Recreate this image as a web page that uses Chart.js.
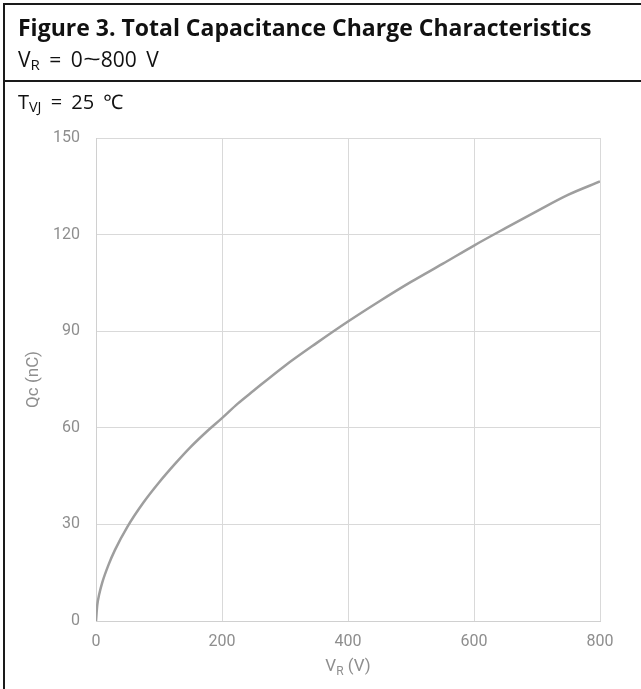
<!DOCTYPE html>
<html>
<head>
<meta charset="utf-8">
<script src="https://cdn.jsdelivr.net/npm/chart.js@4.4.0/dist/chart.umd.min.js"></script>
<style>
  html, body { margin: 0; padding: 0; background: #fff; }
  #wrap { position: relative; width: 641px; height: 689px; overflow: hidden; background: #fff; }
  #c { position: absolute; left: 0; top: 0; }
  .hline { position: absolute; left: 3px; right: 0; height: 2px; background: #1a1a1a; }
  .vline { position: absolute; left: 3px; top: 3px; bottom: 0; width: 2px; background: #1a1a1a; }
  .hdr { position: absolute; left: 18px; font-family: "Open Sans", "Noto Sans", sans-serif; color: #111; white-space: nowrap; line-height: 1; }
  .hdr sub { font-size: 72%; vertical-align: -0.22em; line-height: 1; }
  .tl { display: inline-block; transform: scaleX(1.5); margin: 0 3px; }
</style>
</head>
<body>
<div id="wrap">
  <canvas id="c" width="641" height="689"></canvas>
  <div class="hline" style="top:3px"></div>
  <div class="hline" style="top:80px"></div>
  <div class="vline"></div>
  <div class="hdr" style="top:16px;font-size:23px;font-weight:700;">Figure 3. Total Capacitance Charge Characteristics</div>
  <div class="hdr" style="top:49px;font-size:21px;word-spacing:4px;">V<sub>R</sub> = 0<span class="tl">~</span>800 V</div>
  <div class="hdr" style="top:92px;font-size:20px;word-spacing:4px;">T<sub>VJ</sub> = 25 ℃</div>
</div>
<script>
// Data
const voltage = [0, 2, 5, 10, 20, 30, 50, 75, 100, 125, 150, 175, 200, 225, 250, 300, 350, 400, 450, 500, 550, 600, 650, 700, 750, 800];
const charge  = [0, 4.9, 8.2, 12, 17.5, 22, 29.3, 36.7, 43, 48.7, 54, 58.7, 63, 67.5, 71.5, 79.3, 86.3, 93, 99.3, 105.3, 110.9, 116.6, 122, 127.3, 132.4, 136.5];
const xTicks = [0, 200, 400, 600, 800];
const yTicks = [0, 30, 60, 90, 120, 150];

const points = voltage.map((v, i) => ({ x: v, y: charge[i] }));
const FAM = 'Roboto, "Liberation Sans", sans-serif';
const tickFont = { family: FAM, size: 16 };
const gray = '#8e8e8e';

const xTitlePlugin = {
  id: 'xTitle',
  afterDraw(chart) {
    const ctx = chart.ctx;
    const xs = chart.scales.x;
    const cx = (xs.left + xs.right) / 2;
    const y = 667;
    ctx.save();
    ctx.fillStyle = gray;
    ctx.textBaseline = 'middle';
    ctx.textAlign = 'left';
    const big = '17px ' + FAM, small = '12px ' + FAM;
    const t1 = 'V', t2 = 'R', t3 = ' (V)';
    ctx.font = big;
    const w1 = ctx.measureText(t1).width;
    const w3 = ctx.measureText(t3).width;
    ctx.font = small;
    const w2 = ctx.measureText(t2).width;
    let x = cx - (w1 + w2 + w3) / 2;
    ctx.font = big;
    ctx.fillText(t1, x, y);
    x += w1;
    ctx.font = small;
    ctx.fillText(t2, x, y + 5);
    x += w2;
    ctx.font = big;
    ctx.fillText(t3, x, y);
    ctx.restore();
  }
};

new Chart(document.getElementById('c'), {
  type: 'line',
  data: {
    datasets: [{
      data: points,
      borderColor: '#9e9e9e',
      borderWidth: 2.5,
      pointRadius: 0,
      fill: false,
      cubicInterpolationMode: 'monotone'
    }]
  },
  options: {
    responsive: false,
    animation: false,
    events: [],
    layout: { padding: { left: 24, right: 41, top: 138, bottom: 0 } },
    plugins: { legend: { display: false }, tooltip: { enabled: false } },
    scales: {
      x: {
        type: 'linear',
        min: 0, max: 800,
        afterBuildTicks: s => { s.ticks = xTicks.map(v => ({ value: v })); },
        afterFit: s => { s.height = 68; },
        grid: { color: '#d9d9d9', lineWidth: 1, drawTicks: false },
        border: { color: '#d0d0d0', width: 1 },
        ticks: { color: gray, font: tickFont, padding: 11, maxRotation: 0 }
      },
      y: {
        min: 0, max: 150,
        afterBuildTicks: s => { s.ticks = yTicks.map(v => ({ value: v })); },
        afterFit: s => { s.width = 72; },
        grid: { color: '#d9d9d9', lineWidth: 1, drawTicks: false },
        border: { color: '#d0d0d0', width: 1 },
        ticks: { color: gray, font: tickFont, padding: 16 },
        title: { display: true, text: 'Qc (nC)', color: gray, font: { family: FAM, size: 17 }, padding: 0 }
      }
    }
  },
  plugins: [xTitlePlugin]
});
</script>
</body>
</html>
